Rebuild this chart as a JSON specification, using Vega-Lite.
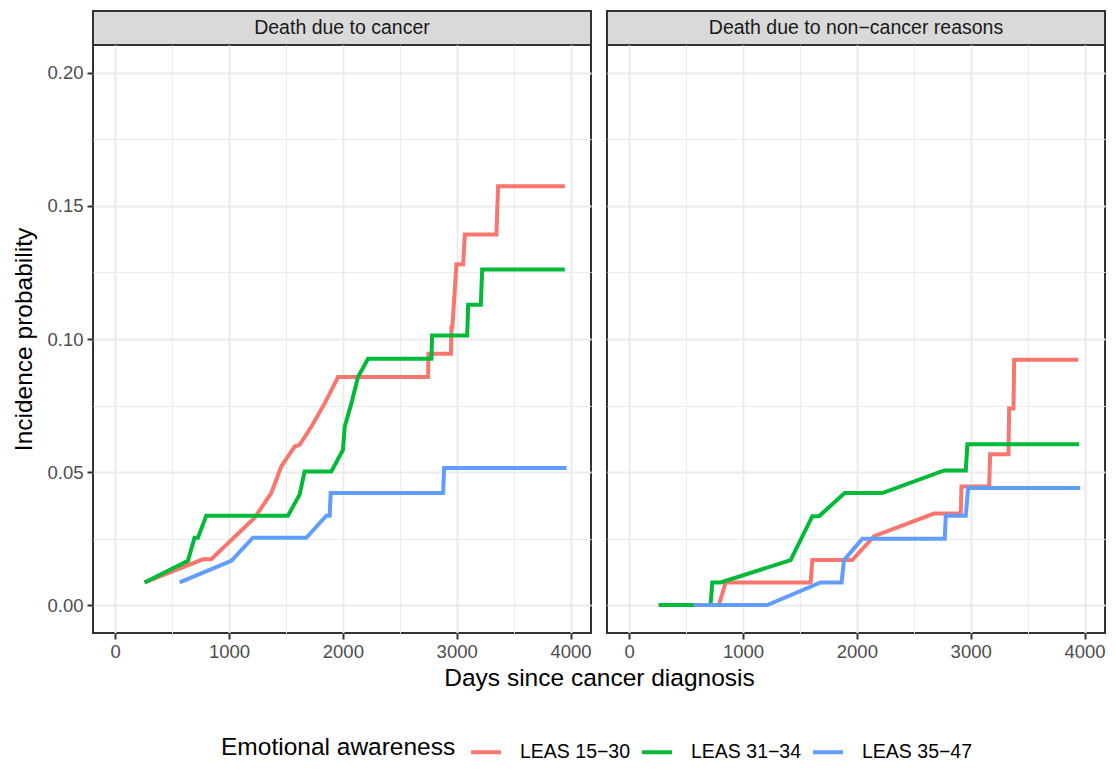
{
  "$schema": "https://vega.github.io/schema/vega-lite/v6.json",
  "background": "white",
  "padding": {"left": 10, "top": 10, "right": 12, "bottom": 5},
  "datasets": {
    "curves": [
      {"panel": "cancer", "group": "LEAS 15−30", "day": 258, "p": 0.0085},
      {"panel": "cancer", "group": "LEAS 15−30", "day": 771, "p": 0.0172},
      {"panel": "cancer", "group": "LEAS 15−30", "day": 844, "p": 0.0172},
      {"panel": "cancer", "group": "LEAS 15−30", "day": 1225, "p": 0.0328},
      {"panel": "cancer", "group": "LEAS 15−30", "day": 1371, "p": 0.0421},
      {"panel": "cancer", "group": "LEAS 15−30", "day": 1459, "p": 0.0521},
      {"panel": "cancer", "group": "LEAS 15−30", "day": 1577, "p": 0.0596},
      {"panel": "cancer", "group": "LEAS 15−30", "day": 1620, "p": 0.0602},
      {"panel": "cancer", "group": "LEAS 15−30", "day": 1723, "p": 0.0670},
      {"panel": "cancer", "group": "LEAS 15−30", "day": 1840, "p": 0.0758},
      {"panel": "cancer", "group": "LEAS 15−30", "day": 1958, "p": 0.0857},
      {"panel": "cancer", "group": "LEAS 15−30", "day": 2749, "p": 0.0857},
      {"panel": "cancer", "group": "LEAS 15−30", "day": 2752, "p": 0.0945},
      {"panel": "cancer", "group": "LEAS 15−30", "day": 2950, "p": 0.0945},
      {"panel": "cancer", "group": "LEAS 15−30", "day": 2954, "p": 0.1045},
      {"panel": "cancer", "group": "LEAS 15−30", "day": 2962, "p": 0.1045},
      {"panel": "cancer", "group": "LEAS 15−30", "day": 2998, "p": 0.1281},
      {"panel": "cancer", "group": "LEAS 15−30", "day": 3057, "p": 0.1281},
      {"panel": "cancer", "group": "LEAS 15−30", "day": 3071, "p": 0.1393},
      {"panel": "cancer", "group": "LEAS 15−30", "day": 3349, "p": 0.1393},
      {"panel": "cancer", "group": "LEAS 15−30", "day": 3364, "p": 0.1574},
      {"panel": "cancer", "group": "LEAS 15−30", "day": 3950, "p": 0.1574},
      {"panel": "cancer", "group": "LEAS 31−34", "day": 258, "p": 0.0085},
      {"panel": "cancer", "group": "LEAS 31−34", "day": 639, "p": 0.0166},
      {"panel": "cancer", "group": "LEAS 31−34", "day": 697, "p": 0.0253},
      {"panel": "cancer", "group": "LEAS 31−34", "day": 727, "p": 0.0253},
      {"panel": "cancer", "group": "LEAS 31−34", "day": 800, "p": 0.0336},
      {"panel": "cancer", "group": "LEAS 31−34", "day": 1518, "p": 0.0336},
      {"panel": "cancer", "group": "LEAS 31−34", "day": 1620, "p": 0.0415},
      {"panel": "cancer", "group": "LEAS 31−34", "day": 1664, "p": 0.0502},
      {"panel": "cancer", "group": "LEAS 31−34", "day": 1899, "p": 0.0502},
      {"panel": "cancer", "group": "LEAS 31−34", "day": 2001, "p": 0.0583},
      {"panel": "cancer", "group": "LEAS 31−34", "day": 2016, "p": 0.0670},
      {"panel": "cancer", "group": "LEAS 31−34", "day": 2075, "p": 0.0758},
      {"panel": "cancer", "group": "LEAS 31−34", "day": 2133, "p": 0.0857},
      {"panel": "cancer", "group": "LEAS 31−34", "day": 2221, "p": 0.0926},
      {"panel": "cancer", "group": "LEAS 31−34", "day": 2778, "p": 0.0926},
      {"panel": "cancer", "group": "LEAS 31−34", "day": 2784, "p": 0.1013},
      {"panel": "cancer", "group": "LEAS 31−34", "day": 3092, "p": 0.1013},
      {"panel": "cancer", "group": "LEAS 31−34", "day": 3101, "p": 0.1129},
      {"panel": "cancer", "group": "LEAS 31−34", "day": 3212, "p": 0.1129},
      {"panel": "cancer", "group": "LEAS 31−34", "day": 3224, "p": 0.1261},
      {"panel": "cancer", "group": "LEAS 31−34", "day": 3950, "p": 0.1261},
      {"panel": "cancer", "group": "LEAS 35−47", "day": 566, "p": 0.0085},
      {"panel": "cancer", "group": "LEAS 35−47", "day": 1020, "p": 0.0166},
      {"panel": "cancer", "group": "LEAS 35−47", "day": 1210, "p": 0.0253},
      {"panel": "cancer", "group": "LEAS 35−47", "day": 1679, "p": 0.0253},
      {"panel": "cancer", "group": "LEAS 35−47", "day": 1855, "p": 0.0336},
      {"panel": "cancer", "group": "LEAS 35−47", "day": 1884, "p": 0.0336},
      {"panel": "cancer", "group": "LEAS 35−47", "day": 1893, "p": 0.0421},
      {"panel": "cancer", "group": "LEAS 35−47", "day": 2881, "p": 0.0421},
      {"panel": "cancer", "group": "LEAS 35−47", "day": 2890, "p": 0.0515},
      {"panel": "cancer", "group": "LEAS 35−47", "day": 3965, "p": 0.0515},
      {"panel": "noncancer", "group": "LEAS 15−30", "day": 258, "p": 0},
      {"panel": "noncancer", "group": "LEAS 15−30", "day": 788, "p": 0},
      {"panel": "noncancer", "group": "LEAS 15−30", "day": 847, "p": 0.0085},
      {"panel": "noncancer", "group": "LEAS 15−30", "day": 1594, "p": 0.0085},
      {"panel": "noncancer", "group": "LEAS 15−30", "day": 1609, "p": 0.0169},
      {"panel": "noncancer", "group": "LEAS 15−30", "day": 1960, "p": 0.0169},
      {"panel": "noncancer", "group": "LEAS 15−30", "day": 2151, "p": 0.0259},
      {"panel": "noncancer", "group": "LEAS 15−30", "day": 2678, "p": 0.0344},
      {"panel": "noncancer", "group": "LEAS 15−30", "day": 2913, "p": 0.0344},
      {"panel": "noncancer", "group": "LEAS 15−30", "day": 2919, "p": 0.0446},
      {"panel": "noncancer", "group": "LEAS 15−30", "day": 3162, "p": 0.0446},
      {"panel": "noncancer", "group": "LEAS 15−30", "day": 3171, "p": 0.0567},
      {"panel": "noncancer", "group": "LEAS 15−30", "day": 3332, "p": 0.0567},
      {"panel": "noncancer", "group": "LEAS 15−30", "day": 3338, "p": 0.0739},
      {"panel": "noncancer", "group": "LEAS 15−30", "day": 3376, "p": 0.0739},
      {"panel": "noncancer", "group": "LEAS 15−30", "day": 3382, "p": 0.0922},
      {"panel": "noncancer", "group": "LEAS 15−30", "day": 3945, "p": 0.0922},
      {"panel": "noncancer", "group": "LEAS 31−34", "day": 261, "p": 0},
      {"panel": "noncancer", "group": "LEAS 31−34", "day": 715, "p": 0},
      {"panel": "noncancer", "group": "LEAS 31−34", "day": 730, "p": 0.0085},
      {"panel": "noncancer", "group": "LEAS 31−34", "day": 803, "p": 0.0085},
      {"panel": "noncancer", "group": "LEAS 31−34", "day": 1418, "p": 0.0169},
      {"panel": "noncancer", "group": "LEAS 31−34", "day": 1609, "p": 0.0334},
      {"panel": "noncancer", "group": "LEAS 31−34", "day": 1668, "p": 0.0334},
      {"panel": "noncancer", "group": "LEAS 31−34", "day": 1893, "p": 0.0421},
      {"panel": "noncancer", "group": "LEAS 31−34", "day": 2224, "p": 0.0421},
      {"panel": "noncancer", "group": "LEAS 31−34", "day": 2767, "p": 0.0506},
      {"panel": "noncancer", "group": "LEAS 31−34", "day": 2957, "p": 0.0506},
      {"panel": "noncancer", "group": "LEAS 31−34", "day": 2971, "p": 0.0604},
      {"panel": "noncancer", "group": "LEAS 31−34", "day": 3953, "p": 0.0604},
      {"panel": "noncancer", "group": "LEAS 35−47", "day": 568, "p": 0},
      {"panel": "noncancer", "group": "LEAS 35−47", "day": 1213, "p": 0},
      {"panel": "noncancer", "group": "LEAS 35−47", "day": 1682, "p": 0.0085},
      {"panel": "noncancer", "group": "LEAS 35−47", "day": 1866, "p": 0.0085},
      {"panel": "noncancer", "group": "LEAS 35−47", "day": 1887, "p": 0.0169},
      {"panel": "noncancer", "group": "LEAS 35−47", "day": 2048, "p": 0.0249},
      {"panel": "noncancer", "group": "LEAS 35−47", "day": 2772, "p": 0.0249},
      {"panel": "noncancer", "group": "LEAS 35−47", "day": 2781, "p": 0.0336},
      {"panel": "noncancer", "group": "LEAS 35−47", "day": 2957, "p": 0.0336},
      {"panel": "noncancer", "group": "LEAS 35−47", "day": 2977, "p": 0.0440},
      {"panel": "noncancer", "group": "LEAS 35−47", "day": 3962, "p": 0.0440}
    ]
  },
  "columns": 2,
  "bounds": "flush",
  "spacing": {"row": 0, "column": 16},
  "concat": [
    {
      "width": 498,
      "height": 34,
      "view": {"stroke": null},
      "data": {"values": [{"label": "Death due to cancer"}]},
      "layer": [
        {"mark": {"type": "rect", "fill": "#D9D9D9", "stroke": "#333333", "strokeWidth": 2}, "encoding": {}},
        {"mark": {"type": "text", "fontSize": 19.5, "color": "#1A1A1A", "font": "Liberation Sans"}, "encoding": {"text": {"field": "label"}}}
      ]
    },
    {
      "width": 498,
      "height": 34,
      "view": {"stroke": null},
      "data": {"values": [{"label": "Death due to non−cancer reasons"}]},
      "layer": [
        {"mark": {"type": "rect", "fill": "#D9D9D9", "stroke": "#333333", "strokeWidth": 2}, "encoding": {}},
        {"mark": {"type": "text", "fontSize": 19.5, "color": "#1A1A1A", "font": "Liberation Sans"}, "encoding": {"text": {"field": "label"}}}
      ]
    },
    {
      "width": 498,
      "height": 588,
      "data": {"name": "curves"},
      "transform": [{"filter": "datum.panel === 'cancer'"}],
      "mark": {"type": "line", "strokeWidth": 4, "strokeJoin": "miter", "strokeCap": "butt"},
      "encoding": {
        "x": {
          "field": "day", "type": "quantitative",
          "scale": {"domain": [-195, 4180], "nice": false, "zero": false},
          "axis": {
            "values": [0, 500, 1000, 1500, 2000, 2500, 3000, 3500, 4000],
            "format": "d",
            "labelExpr": "datum.value % 1000 === 0 ? datum.label : ''",
            "gridWidth": {"condition": {"test": "datum.value % 1000 === 0", "value": 2}, "value": 1},
            "tickOpacity": {"condition": {"test": "datum.value % 1000 === 0", "value": 1}, "value": 0},
            "title": "Days since cancer diagnosis",
            "titleX": 506,
            "titlePadding": 6
          }
        },
        "y": {
          "field": "p", "type": "quantitative",
          "scale": {"domain": [-0.0105, 0.2105], "nice": false, "zero": false},
          "axis": {
            "values": [0, 0.025, 0.05, 0.075, 0.1, 0.125, 0.15, 0.175, 0.2],
            "format": ".2f",
            "labelExpr": "abs(datum.value * 20 - round(datum.value * 20)) < 0.000001 ? datum.label : ''",
            "gridWidth": {"condition": {"test": "abs(datum.value * 20 - round(datum.value * 20)) < 0.000001", "value": 2}, "value": 1},
            "tickOpacity": {"condition": {"test": "abs(datum.value * 20 - round(datum.value * 20)) < 0.000001", "value": 1}, "value": 0},
            "labelPadding": 4,
            "title": "Incidence probability",
            "titlePadding": 10
          }
        },
        "color": {
          "field": "group", "type": "nominal",
          "scale": {"domain": ["LEAS 15−30", "LEAS 31−34", "LEAS 35−47"], "range": ["#F8766D", "#00BA38", "#619CFF"]},
          "legend": {"title": "Emotional awareness", "orient": "none", "direction": "horizontal", "legendX": 128, "legendY": 724}
        }
      }
    },
    {
      "width": 498,
      "height": 588,
      "data": {"name": "curves"},
      "transform": [{"filter": "datum.panel === 'noncancer'"}],
      "mark": {"type": "line", "strokeWidth": 4, "strokeJoin": "miter", "strokeCap": "butt"},
      "encoding": {
        "x": {
          "field": "day", "type": "quantitative",
          "scale": {"domain": [-195, 4180], "nice": false, "zero": false},
          "axis": {
            "values": [0, 500, 1000, 1500, 2000, 2500, 3000, 3500, 4000],
            "format": "d",
            "labelExpr": "datum.value % 1000 === 0 ? datum.label : ''",
            "gridWidth": {"condition": {"test": "datum.value % 1000 === 0", "value": 2}, "value": 1},
            "tickOpacity": {"condition": {"test": "datum.value % 1000 === 0", "value": 1}, "value": 0},
            "title": null
          }
        },
        "y": {
          "field": "p", "type": "quantitative",
          "scale": {"domain": [-0.0105, 0.2105], "nice": false, "zero": false},
          "axis": {
            "values": [0, 0.025, 0.05, 0.075, 0.1, 0.125, 0.15, 0.175, 0.2],
            "labels": false,
            "ticks": false,
            "gridWidth": {"condition": {"test": "abs(datum.value * 20 - round(datum.value * 20)) < 0.000001", "value": 2}, "value": 1},
            "title": null
          }
        },
        "color": {
          "field": "group", "type": "nominal",
          "scale": {"domain": ["LEAS 15−30", "LEAS 31−34", "LEAS 35−47"], "range": ["#F8766D", "#00BA38", "#619CFF"]},
          "legend": {"title": "Emotional awareness", "orient": "none", "direction": "horizontal", "legendX": 128, "legendY": 724}
        }
      }
    }
  ],
  "config": {
    "font": "Liberation Sans",
    "view": {"stroke": "#333333", "strokeWidth": 2},
    "axis": {
      "domain": false,
      "gridColor": "#EBEBEB",
      "tickColor": "#333333",
      "tickSize": 6,
      "tickWidth": 2,
      "labelColor": "#4D4D4D",
      "labelFontSize": 18.5,
      "labelFont": "Liberation Sans",
      "labelPadding": 3,
      "titleFont": "Liberation Sans",
      "titleFontSize": 24.5,
      "titleFontWeight": "normal",
      "titleColor": "#000000"
    },
    "legend": {
      "titleOrient": "left",
      "titleFontSize": 24.5,
      "titleFontWeight": "normal",
      "titleColor": "#000000",
      "titleFont": "Liberation Sans",
      "titlePadding": 13,
      "titleLimit": 0,
      "labelFontSize": 19.5,
      "labelColor": "#000000",
      "labelFont": "Liberation Sans",
      "labelLimit": 0,
      "labelOffset": 17,
      "symbolType": "stroke",
      "symbolStrokeWidth": 4,
      "symbolSize": 900,
      "columnPadding": 3
    }
  }
}
